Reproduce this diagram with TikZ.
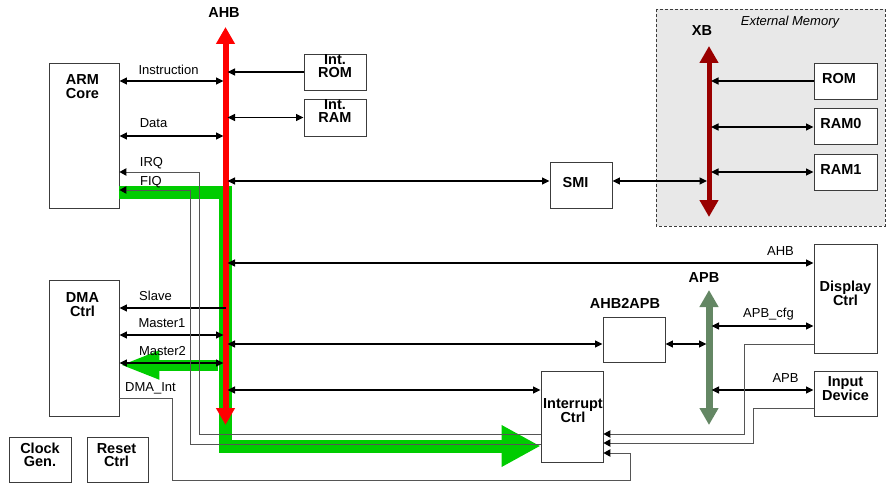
\documentclass[tikz,border=0pt]{standalone}
\usepackage{fontspec}
\setmainfont{Liberation Sans}
\usetikzlibrary{arrows.meta}
\definecolor{busred}{RGB}{255,0,0}
\definecolor{xbred}{RGB}{153,0,0}
\definecolor{apbgreen}{RGB}{100,135,100}
\definecolor{flowgreen}{RGB}{0,204,0}
\definecolor{memfill}{RGB}{232,232,232}
\definecolor{wire}{RGB}{85,85,85}
\definecolor{boxline}{RGB}{60,60,60}
\begin{document}
\begin{tikzpicture}[x=1pt,y=-1pt,
  box/.style={draw=boxline, line width=0.9pt, fill=white, inner sep=0pt},
  boxtxt/.style={font=\fontsize{14.5}{13.5}\selectfont\bfseries, align=center, inner sep=0pt},
  sig/.style={font=\fontsize{13}{13}\selectfont, inner sep=0pt, anchor=base},
  bustxt/.style={font=\fontsize{14.5}{13}\selectfont\bfseries, inner sep=0pt, anchor=base},
  tip/.tip={Triangle[length=7.5pt,width=7pt]},
  wtip/.tip={Triangle[length=7pt,width=7.5pt,color=black]},
  conn/.style={draw=black, line width=1.3pt},
  wireline/.style={draw=wire, line width=1pt},
  flow/.style={draw=flowgreen, line width=13pt, line join=miter}
]
\useasboundingbox (0,0) rectangle (886,484);

% external memory region
\draw[draw=boxline, fill=memfill, line width=0.8pt, dash pattern=on 3pt off 2pt] (656,9) rectangle (885,226);
\node[font=\fontsize{13}{13}\selectfont\itshape, inner sep=0pt, anchor=base] (extlbl) at (790,26) {External Memory};

% bus side coordinates
\coordinate (ahbtop) at (225.5,27);
\coordinate (ahbbot) at (225.5,425);
\coordinate (ahbL) at (223.5,0);
\coordinate (ahbM) at (225.5,0);
\coordinate (ahbR) at (227.5,0);
\coordinate (xbtop) at (709,46);
\coordinate (xbbot) at (709,217);
\coordinate (xbL) at (707,0);
\coordinate (xbR) at (711,0);
\coordinate (apbtop) at (709,290);
\coordinate (apbbot) at (709,425);
\coordinate (apbL) at (706.5,0);
\coordinate (apbR) at (711.5,0);

% boxes
\node[box, minimum width=70pt, minimum height=145pt, label={[boxtxt, anchor=north, yshift=-12pt, xshift=-1.5pt]north:ARM\\Core}] (arm) at (84,135.5) {};
\node[box, minimum width=70pt, minimum height=136pt, label={[boxtxt, anchor=north, yshift=-13pt, xshift=-1.5pt]north:DMA\\Ctrl}] (dma) at (84,348) {};
\node[box, minimum width=62pt, minimum height=45pt, label={[boxtxt, yshift=4.5pt]center:Clock\\Gen.}] (clock) at (40,459.5) {};
\node[box, minimum width=61pt, minimum height=45pt, label={[boxtxt, yshift=4.5pt, xshift=-1pt]center:Reset\\Ctrl}] (reset) at (117.5,459.5) {};
\node[box, minimum width=62pt, minimum height=36pt, label={[boxtxt, yshift=6pt]center:Int.\\ROM}] (introm) at (335,72) {};
\node[box, minimum width=62pt, minimum height=37pt, label={[boxtxt, yshift=6.5pt]center:Int.\\RAM}] (intram) at (335,117.5) {};
\node[box, minimum width=62pt, minimum height=46pt, label={[boxtxt, yshift=2.5pt, xshift=-5.5pt]center:SMI}] (smi) at (581,185) {};
\node[box, minimum width=63pt, minimum height=36pt, label={[boxtxt, yshift=2pt, xshift=-6.5pt]center:ROM}] (rom) at (845.5,81) {};
\node[box, minimum width=63pt, minimum height=36pt, label={[boxtxt, yshift=2pt, xshift=-4.5pt]center:RAM0}] (ram0) at (845.5,126) {};
\node[box, minimum width=63pt, minimum height=36pt, label={[boxtxt, yshift=2pt, xshift=-4.5pt]center:RAM1}] (ram1) at (845.5,172) {};
\node[box, minimum width=63pt, minimum height=109pt, label={[boxtxt, yshift=5pt]center:Display\\Ctrl}] (display) at (845.5,298.5) {};
\node[box, minimum width=63pt, minimum height=45pt, label={[boxtxt, yshift=5pt]center:Input\\Device}] (input) at (845.5,393.5) {};
\node[box, minimum width=62pt, minimum height=45pt] (ahb2apb) at (634,339.5) {};
\node[bustxt] (ahb2apblbl) at (625,308) {AHB2APB};

% green flows (under buses)
\draw[flow] (arm.east |- 0,192) -- (ahbM |- 0,192) -- (ahbM |- 0,446) -- (510,446);
\draw[draw=flowgreen, line width=11pt, -{Triangle[length=40pt,width=26pt]}] (218,365) -- (dma.east |- 0,365);

% interrupt controller box
\node[box, minimum width=62pt, minimum height=91pt, label={[boxtxt, yshift=6pt, xshift=1pt]center:Interrupt\\Ctrl}] (intc) at (572,416.5) {};
\draw[flow, -{Triangle[length=39pt,width=39pt]}] (503,446) -- (intc.west |- 0,446);

% buses
\draw[draw=busred, line width=6pt, {Triangle[length=17pt,width=18pt]}-{Triangle[length=17pt,width=18pt]}] (ahbtop) -- (ahbbot);
\draw[draw=xbred, line width=5pt, {Triangle[length=17pt,width=18pt]}-{Triangle[length=17pt,width=18pt]}] (xbtop) -- (xbbot);
\draw[draw=apbgreen, line width=7pt, {Triangle[length=17pt,width=18pt]}-{Triangle[length=17pt,width=18pt]}] (apbtop) -- (apbbot);
\node[bustxt] (ahblbl) at (224,18) {AHB};
\node[bustxt] (xblbl) at (702,36) {XB};
\node[bustxt] (apblbl) at (704,282) {APB};

% AHB connectors
\draw[conn, tip-tip] (arm.east |- 0,81) -- (ahbL |- 0,81);
\node[sig] (linstr) at (168.5,75) {Instruction};
\draw[conn, tip-tip] (arm.east |- 0,136) -- (ahbL |- 0,136);
\node[sig] (ldata) at (153.5,128) {Data};
\draw[conn, -tip] (introm.west) -- (introm.west -| ahbR);
\draw[conn, tip-tip] (ahbR |- intram.west) -- (intram.west);
\draw[conn, tip-tip] (ahbR |- 0,181) -- (smi.west |- 0,181);
\draw[conn, tip-tip] (ahbR |- 0,263) -- (display.west |- 0,263);
\node[sig] (lahb) at (780.5,255) {AHB};
\draw[conn, -tip] (ahbM |- 0,308) -- (dma.east |- 0,308);
\node[sig] (lslave) at (155.5,300) {Slave};
\draw[conn, tip-tip] (dma.east |- 0,335) -- (ahbL |- 0,335);
\node[sig] (lm1) at (162,327) {Master1};
\draw[conn, tip-tip] (ahbR |- 0,344) -- (ahb2apb.west |- 0,344);
\draw[conn, tip-tip] (dma.east |- 0,363) -- (ahbL |- 0,363);
\node[sig] (lm2) at (162.5,355) {Master2};
\draw[conn, tip-tip] (ahbR |- 0,390) -- (intc.west |- 0,390);

% XB connectors
\draw[conn, tip-tip] (smi.east |- 0,181) -- (xbL |- 0,181);
\draw[conn, -tip] (rom.west |- 0,81) -- (xbR |- 0,81);
\draw[conn, tip-tip] (xbR |- 0,127) -- (ram0.west |- 0,127);
\draw[conn, tip-tip] (xbR |- 0,172) -- (ram1.west |- 0,172);

% APB connectors
\draw[conn, tip-tip] (ahb2apb.east |- 0,344) -- (apbL |- 0,344);
\draw[conn, tip-tip] (apbR |- 0,326) -- (display.west |- 0,326);
\node[sig] (lcfg) at (768.5,317) {APB\_cfg};
\draw[conn, tip-tip] (apbR |- 0,390) -- (input.west |- 0,390);
\node[sig] (lapb) at (785.5,382) {APB};

% interrupt wires
\draw[wireline, -wtip] (intc.west |- 0,434) -| (199,172) -- (arm.east |- 0,172);
\node[sig] (lirq) at (151.5,167) {IRQ};
\draw[wireline, -wtip] (intc.west |- 0,444) -| (190,190) -- (arm.east |- 0,190);
\node[sig] (lfiq) at (151,185) {FIQ};
\draw[wireline, -wtip] (display.west |- 0,344) -| (744,434) -- (intc.east |- 0,434);
\draw[wireline, -wtip] (input.west |- 0,408) -| (753,443) -- (intc.east |- 0,443);
\draw[wireline, -wtip] (dma.east |- 0,398) -| (172,480) -| (630,453) -- (intc.east |- 0,453);
\node[sig] (ldmaint) at (150.5,391) {DMA\_Int};
\end{tikzpicture}
\end{document}
